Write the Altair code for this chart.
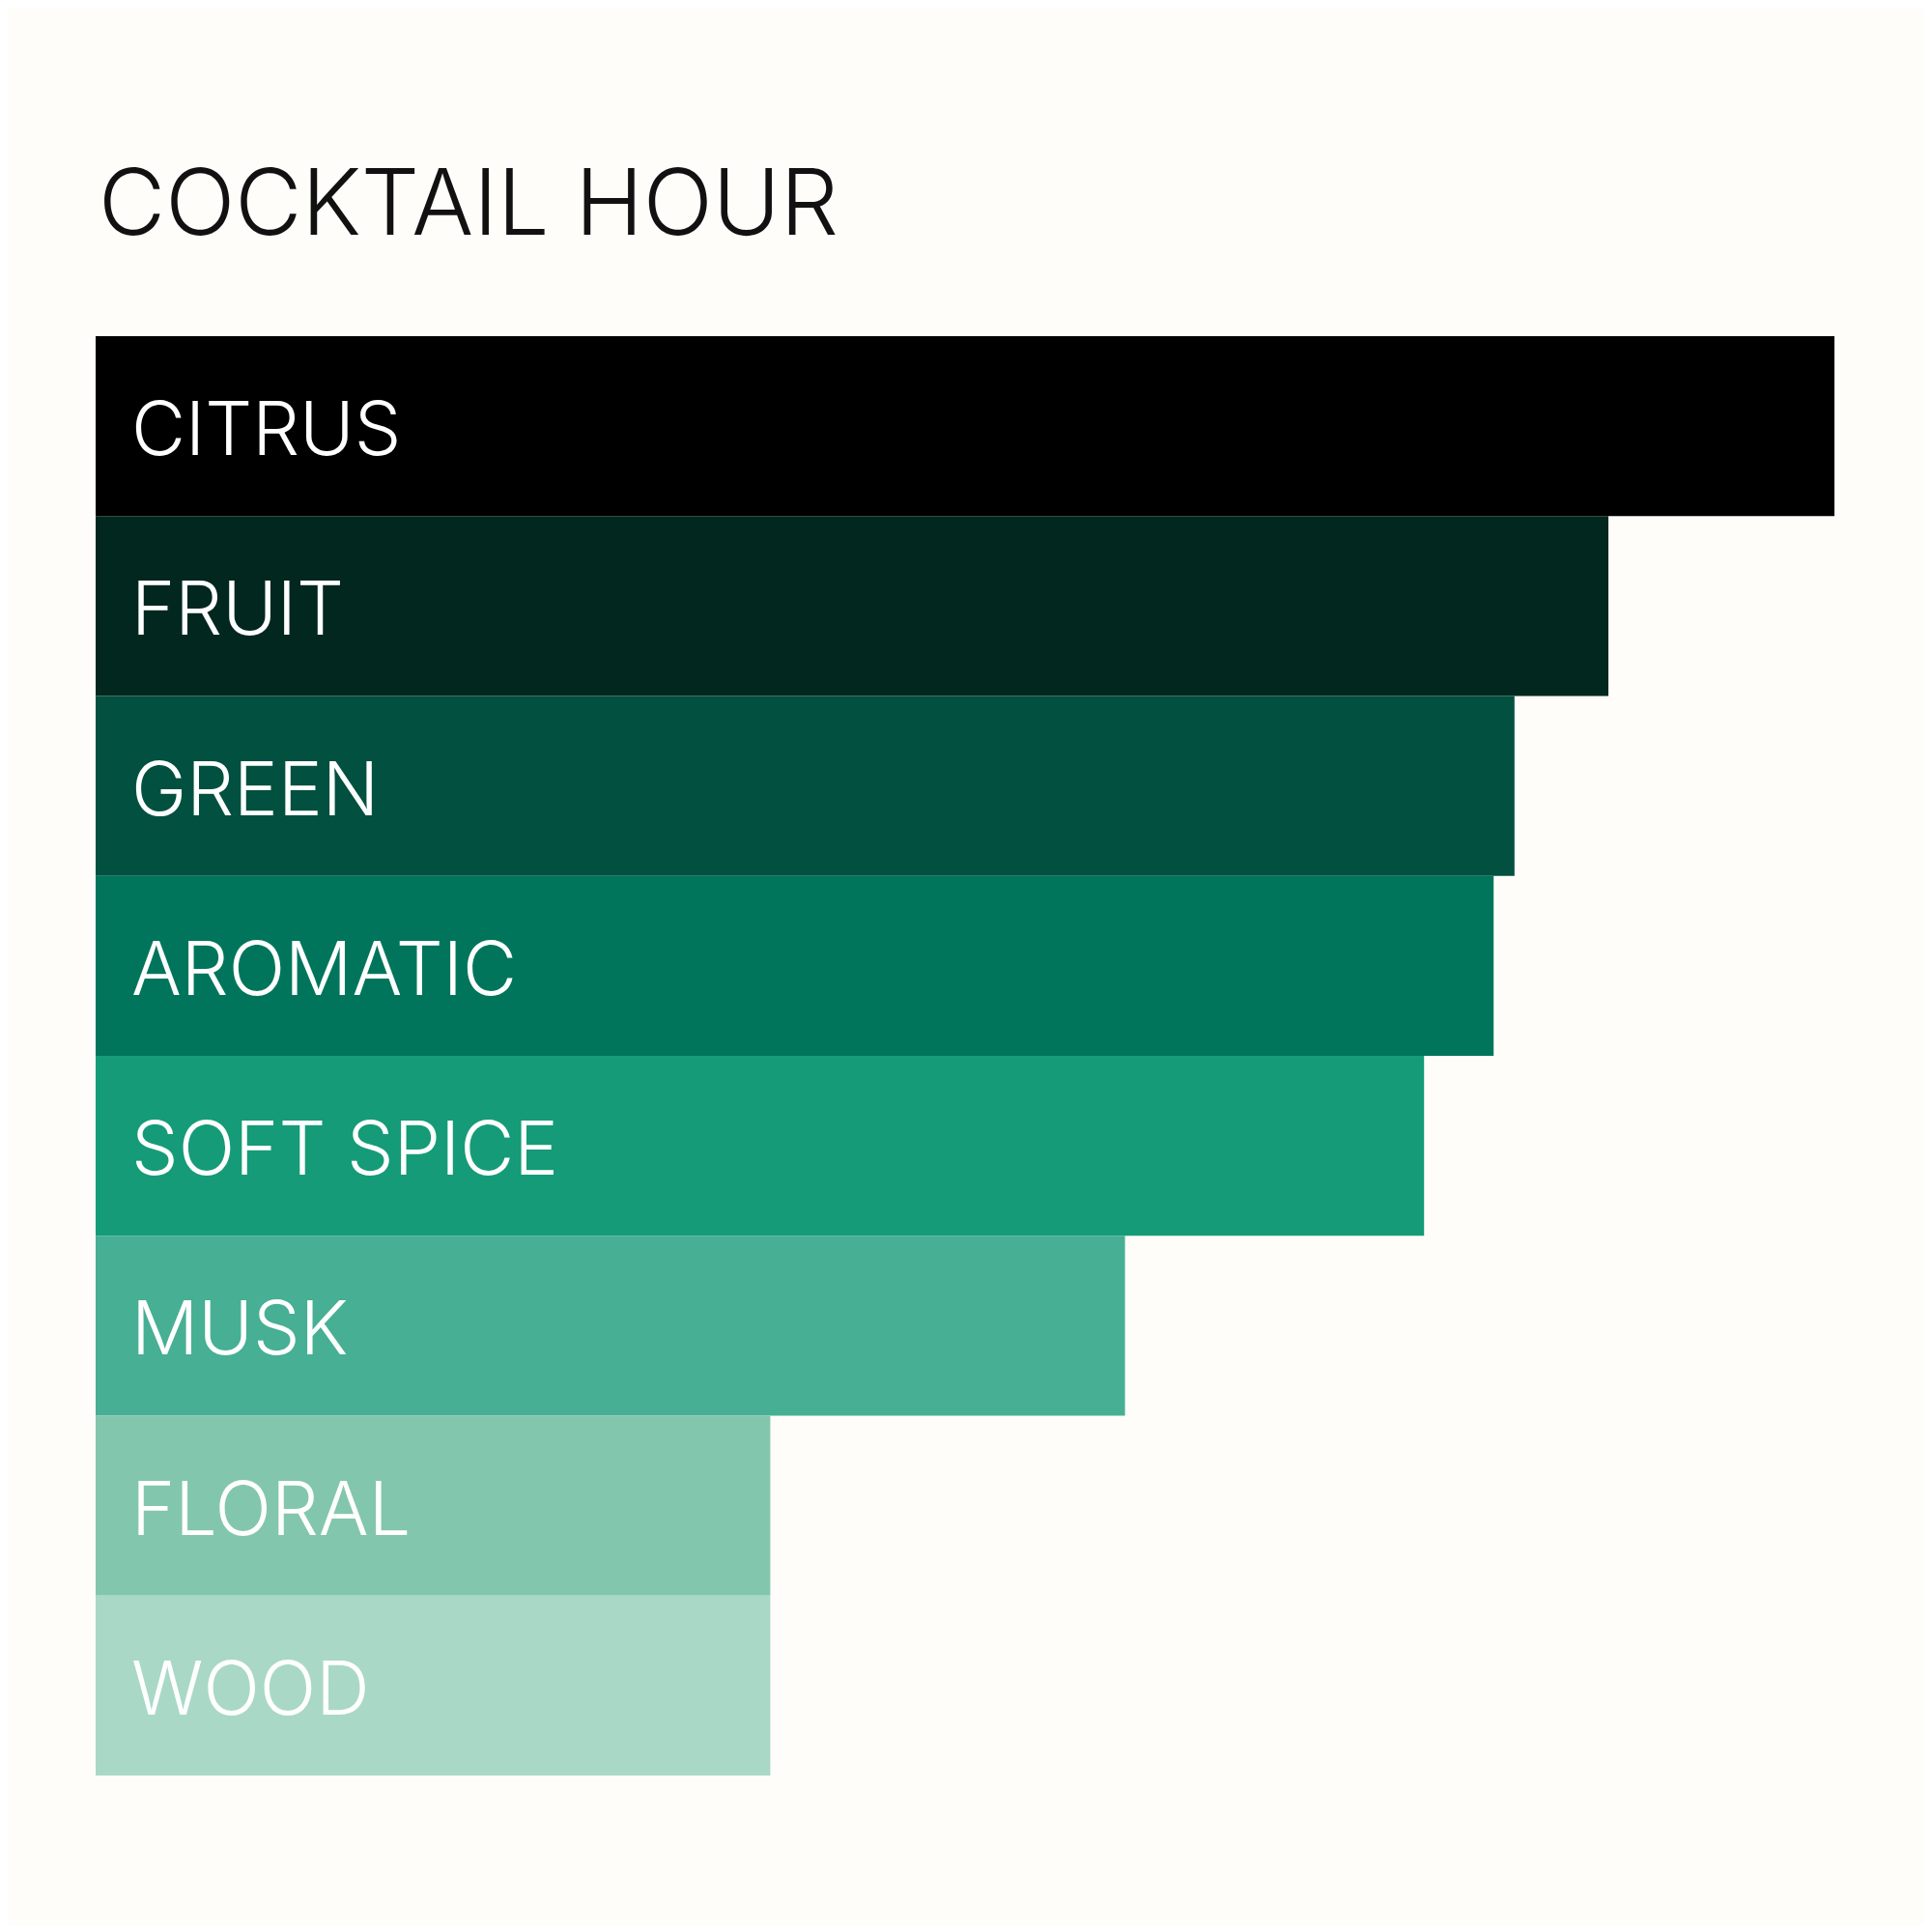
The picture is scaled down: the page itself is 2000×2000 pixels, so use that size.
import altair as alt
import pandas as pd

categories = ["CITRUS", "FRUIT", "GREEN", "AROMATIC", "SOFT SPICE", "MUSK", "FLORAL", "WOOD"]
values = [100, 87, 81.6, 80.4, 76.4, 59.2, 38.8, 38.8]
colors = ["#000000", "#02271F", "#025040", "#01755C", "#159B78", "#46AF94", "#83C6AE", "#A9D8C7"]

df = pd.DataFrame({"category": categories, "value": values})

FONT = "Inter"
BG = "#FEFDF9"

y_enc = alt.Y("category:N", sort=categories, axis=None,
              scale=alt.Scale(paddingInner=0, paddingOuter=0))

bars = alt.Chart(df).mark_bar(cornerRadius=0).encode(
    x=alt.X("value:Q", axis=None, scale=alt.Scale(domain=[0, 100], nice=False)),
    y=y_enc,
    color=alt.Color("category:N", scale=alt.Scale(domain=categories, range=colors), legend=None),
)

labels = alt.Chart(df).mark_text(
    align="left", baseline="alphabetic", dx=37, dy=30,
    font=FONT, fontSize=77, fontWeight=300, color="#FFFFFF",
).encode(
    x=alt.datum(0),
    y=y_enc,
    text="category:N",
)

chart = alt.layer(bars, labels).properties(
    width=1800,
    height=1490,
    background=BG,
    padding={"left": 91, "top": 159, "right": 93, "bottom": 155},
    title=alt.TitleParams(
        "COCKTAIL HOUR", anchor="start", font=FONT, fontSize=95,
        fontWeight=300, color="#111111", offset=85, dx=3,
    ),
).configure_view(stroke=None)

chart.save("out.html", embed_options={"renderer": "svg", "actions": False})
